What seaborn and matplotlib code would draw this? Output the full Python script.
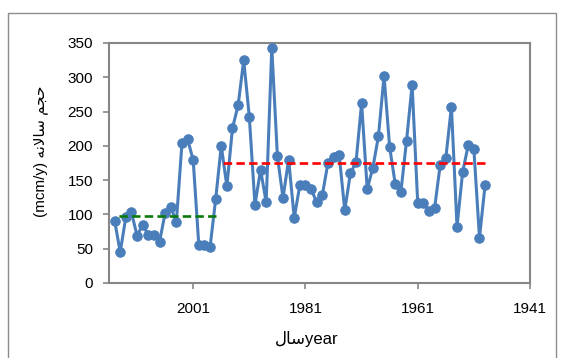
import matplotlib
matplotlib.use("Agg")
import matplotlib.pyplot as plt
import seaborn as sns
import pandas as pd
from matplotlib.patches import Rectangle

# ---- data ----
years = list(range(2015, 1948, -1))
volume = [91, 45, 96, 103, 69, 85, 70, 70, 60, 102,
          111, 89, 204, 210, 179, 55, 55, 52, 122, 200,
          141, 226, 259, 325, 242, 114, 165, 118, 343, 185,
          124, 180, 95, 143, 143, 137, 118, 128, 175, 184,
          187, 106, 160, 176, 262, 137, 168, 214, 302, 198,
          144, 133, 207, 289, 116, 116, 105, 109, 172, 182,
          257, 82, 162, 201, 195, 66, 143]

period1_years = [2015, 1997]
period1_mean = [98, 98]
period2_years = [1996, 1949]
period2_mean = [175, 175]

xticks = [2001, 1981, 1961, 1941]
yticks = [0, 50, 100, 150, 200, 250, 300, 350]

# Arabic text in visual (pre-shaped, left-to-right) order
hajm = "\uFEE2\uFEA0\uFEA3"                    # حجم
salaneh = "\uFEEA\uFEE7\uFEFB\uFE8E\uFEB3"      # سالانه
sal = "\uFEDD\uFE8E\uFEB3"                       # سال
ylabel = "(mcm/y) " + salaneh + " " + hajm
xlabel = sal + "year"

sns.set_theme(style="white")
plt.rcParams["font.family"] = ["Liberation Sans", "DejaVu Sans"]

df = pd.DataFrame({"year": years, "volume": volume})
df1 = pd.DataFrame({"year": period1_years, "mean": period1_mean})
df2 = pd.DataFrame({"year": period2_years, "mean": period2_mean})

W, H = 561, 358
fig = plt.figure(figsize=(W / 100, H / 100), dpi=100)
ax = fig.add_axes([109 / W, 1 - 283 / H, (530 - 109) / W, (283 - 43) / H])

blue = "#4a7ebb"
sns.lineplot(data=df, x="year", y="volume", ax=ax, color=blue, lw=2.2,
             marker="o", markersize=6.8, markeredgecolor=blue,
             markerfacecolor=blue, zorder=3)
sns.lineplot(data=df1, x="year", y="mean", ax=ax, color="#0a7a0a", lw=1.9,
             linestyle=(0, (3.2, 1.6)), zorder=4)
sns.lineplot(data=df2, x="year", y="mean", ax=ax, color="#ff0000", lw=1.9,
             linestyle=(0, (3.2, 1.6)), zorder=4)

ax.set_xlim(2016, 1941)
ax.set_ylim(0, 350)
ax.set_xticks(xticks)
ax.set_yticks(yticks)
ax.set_xticklabels([str(t) for t in xticks])

gray = "#868686"
for s in ax.spines.values():
    s.set_color(gray)
    s.set_linewidth(1.5)
ax.tick_params(axis="both", colors=gray, labelcolor="black", labelsize=11,
               direction="out", length=4.5, width=1.2, pad=7,
               left=True, bottom=True)
ax.tick_params(axis="x", pad=9)
ax.grid(False)

ax.set_ylabel(ylabel, fontsize=11, color="black")
ax.yaxis.set_label_coords(-0.145, 0.55)
ax.set_xlabel(xlabel, fontsize=12, color="black")
ax.xaxis.set_label_coords(0.47, -0.2)

fig.patches.append(Rectangle((8 / W, -0.05), (556 - 8) / W, 1 - 13 / H + 0.05,
                             transform=fig.transFigure, fill=False,
                             edgecolor="#8c8c8c", lw=1.0))

fig.savefig("out.png", dpi=100)
